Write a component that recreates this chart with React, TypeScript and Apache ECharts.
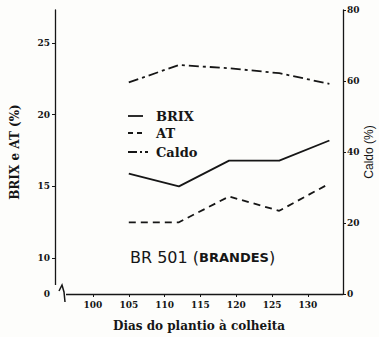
import React, { useEffect, useRef } from "react";
import * as echarts from "echarts";

const days = [105, 112, 119, 126, 133];
const brix = [15.9, 15.0, 16.8, 16.8, 18.2];
const at = [12.5, 12.5, 14.3, 13.3, 15.2];
const caldo = [59.6, 64.5, 63.6, 62.2, 59.2];
const xTicks = [100, 105, 110, 115, 120, 125, 130];
const leftTicks = [7.5, 10, 15, 20, 25];
const legendNames = ["BRIX", "AT", "Caldo"];

const INK = "#161616";
const BG = "#fdfdfb";
const SERIF = "'DejaVu Serif', 'Liberation Serif', serif";
const SANS = "'DejaVu Sans', 'Liberation Sans', sans-serif";

export default function App() {
  const ref = useRef<HTMLDivElement>(null);
  useEffect(() => {
    if (!ref.current) return;
    const chart = echarts.init(ref.current, undefined, { renderer: "svg" });
    const pair = (vals: number[]) => days.map((d, i) => [d, vals[i]]);
    const legendDash = [null, [5, 4], [9, 3, 2, 3]];
    const legendLen = [15, 14, 20];
    const legendY = [116, 133, 152];
    const legendGraphics: any[] = [];
    legendNames.forEach((n, i) => {
      legendGraphics.push({
        type: "line",
        shape: { x1: 128, y1: legendY[i], x2: 128 + legendLen[i], y2: legendY[i] },
        style: { stroke: INK, lineWidth: 1.8, lineDash: legendDash[i] || undefined },
        z: 60,
      });
      legendGraphics.push({
        type: "text",
        x: 156,
        y: legendY[i],
        style: {
          text: n,
          fontFamily: SERIF,
          fontSize: 13,
          fontWeight: "bold",
          fill: INK,
          verticalAlign: "middle",
          align: "left",
        },
        z: 60,
      });
    });
    chart.setOption({
      animation: false,
      backgroundColor: BG,
      grid: { left: 55, right: 36, top: 10, bottom: 43, outerBoundsMode: "none", containLabel: false },
      xAxis: {
        type: "value",
        min: 94.7,
        max: 134.9,
        name: "Dias do plantio à colheita",
        nameLocation: "middle",
        nameGap: 26,
        nameMoveOverlap: false,
        nameTextStyle: { fontFamily: SERIF, fontSize: 12, fontWeight: "bold", color: INK },
        axisLine: { lineStyle: { color: INK, width: 1.3 } },
        axisTick: { customValues: xTicks, length: 3, lineStyle: { color: INK } },
        axisLabel: { customValues: xTicks, fontFamily: SERIF, fontSize: 9, fontWeight: "bold", color: INK, margin: 6 },
        splitLine: { show: false },
      },
      yAxis: [
        {
          type: "value",
          min: 7.5,
          max: 27.3,
          name: "BRIX e AT (%)",
          nameLocation: "middle",
          nameRotate: 90,
          nameGap: 34,
          nameMoveOverlap: false,
          nameTextStyle: { fontFamily: SERIF, fontSize: 12, fontWeight: "bold", color: INK },
          axisLine: { show: true, lineStyle: { color: INK, width: 1.3 } },
          axisTick: { show: true, customValues: leftTicks.slice(1), length: 3, lineStyle: { color: INK } },
          axisLabel: {
            customValues: leftTicks,
            fontFamily: SERIF,
            fontSize: 9,
            fontWeight: "bold",
            color: INK,
            margin: 5,
            formatter: (v: number) => (v < 9 ? "0" : String(v)),
          },
          splitLine: { show: false },
        },
        {
          type: "value",
          min: 0,
          max: 80,
          interval: 20,
          position: "right",
          name: "Caldo (%)",
          nameLocation: "middle",
          nameRotate: 90,
          nameGap: 20,
          nameMoveOverlap: false,
          nameTextStyle: { fontFamily: "'Liberation Sans', sans-serif", fontSize: 12, color: INK },
          axisLine: { show: true, lineStyle: { color: INK, width: 1.3 } },
          axisTick: { show: true, length: 3, lineStyle: { color: INK } },
          axisLabel: { fontFamily: SERIF, fontSize: 9, fontWeight: "bold", color: INK, margin: 4 },
          splitLine: { show: false },
        },
      ],
      series: [
        {
          name: "BRIX",
          type: "line",
          data: pair(brix),
          symbol: "none",
          lineStyle: { color: INK, width: 1.8, type: "solid" },
          itemStyle: { color: INK },
        },
        {
          name: "AT",
          type: "line",
          data: pair(at),
          symbol: "none",
          lineStyle: { color: INK, width: 1.8, type: [7, 5] },
          itemStyle: { color: INK },
        },
        {
          name: "Caldo",
          type: "line",
          yAxisIndex: 1,
          data: pair(caldo),
          symbol: "none",
          lineStyle: { color: INK, width: 1.8, type: [10, 4, 3, 4] },
          itemStyle: { color: INK },
        },
      ],
      graphic: [
        { type: "rect", shape: { x: 52, y: 285, width: 14, height: 12 }, style: { fill: BG }, z: 100 },
        {
          type: "polyline",
          shape: { points: [[59, 291], [62, 285], [64, 292], [65, 302]] },
          style: { stroke: INK, lineWidth: 1.5, fill: "none" },
          z: 101,
        },
        {
          type: "text",
          x: 130,
          y: 257,
          style: {
            text: "{a|BR 501 (}{b|BRANDES}{a|)}",
            verticalAlign: "middle",
            rich: {
              a: { fontFamily: SANS, fontSize: 16, fill: INK },
              b: { fontFamily: SANS, fontSize: 13, fontWeight: "bold", fill: INK },
            },
          },
          z: 50,
        },
        ...legendGraphics,
      ],
    });
    return () => chart.dispose();
  }, []);
  return <div ref={ref} style={{ position: "fixed", left: 0, top: 0, width: 379, height: 337 }} />;
}
